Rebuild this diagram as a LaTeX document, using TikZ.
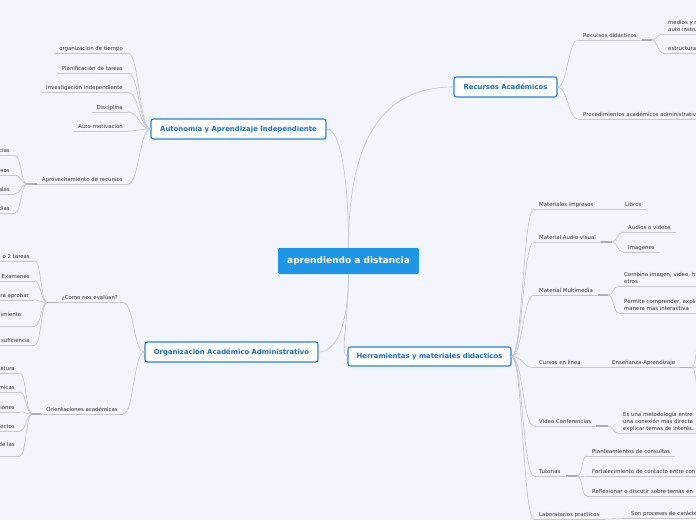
\documentclass[tikz,border=0pt]{standalone}
\usepackage{fontspec}
\setmainfont{DejaVu Sans}
\usepackage{xcolor}
\usepackage{tikz}
\definecolor{canvasbg}{RGB}{242,245,253}
\definecolor{rootblue}{RGB}{29,150,232}
\definecolor{topicblue}{RGB}{36,130,224}
\definecolor{topictext}{RGB}{20,108,206}
\definecolor{linkgrey}{RGB}{198,200,208}
\definecolor{gripgrey}{RGB}{170,172,180}
\definecolor{leafgrey}{RGB}{48,48,54}

\begin{document}
\begin{tikzpicture}[x=1pt, y=-1pt,
    root/.style={rectangle, rounded corners=2pt, fill=rootblue, text=white,
                 font=\bfseries\fontsize{9}{11}\selectfont, minimum width=141pt, minimum height=26pt},
    topic/.style={rectangle, rounded corners=2.5pt, draw=topicblue, line width=1.1pt, fill=white,
                  text=topictext, font=\bfseries\fontsize{6.9}{8}\selectfont, minimum height=20pt, inner xsep=4pt},
    link/.style={draw=linkgrey, line width=0.7pt},
    grip/.style={draw=gripgrey, line width=1.4pt},
    leaf/.style={font=\fontsize{5.4}{7}\selectfont, text=leafgrey, inner xsep=5pt, inner ysep=1.6pt,
                 text depth=1.2pt, align=left,
                 append after command={(\tikzlastnode.south west) edge[link] (\tikzlastnode.south east)}},
    lleaf/.style={leaf, anchor=south east},
    rleaf/.style={leaf, anchor=south west},
    fan/.style={link, to path={.. controls +(-#1,0) and +(#1,0) .. (\tikztotarget)}},
    fan/.default=11,
    rfan/.style={link, to path={.. controls +(#1,0) and +(-#1,0) .. (\tikztotarget)}},
    rfan/.default=11
]
    \fill[canvasbg] (0,0) rectangle (696,520);
    \useasboundingbox (0,0) rectangle (696,520);

    % Centro
    \node[root] (root) at (348.5,261) {aprendiendo a distancia};

    % Temas
    \node[topic, minimum width=175pt] (auto) at (238.5,129) {Autonomía y Aprendizaje Independiente};
    \node[topic, minimum width=173pt] (orga) at (231.5,352) {Organización Académico Administrativo};
    \node[topic, minimum width=103pt] (recu) at (505.5,87) {Recursos Académicos};
    \node[topic, minimum width=163pt, minimum height=19pt] (herr) at (429.5,356.5) {Herramientas y materiales didacticos};

    \draw[link] (auto.east) .. controls +(14,0) and +(0,-70) .. (root.north);
    \draw[link] (root.north) .. controls +(0,-110) and +(-70,0) .. (recu.west);
    \draw[link] (root.south) .. controls +(0,50) and +(18,0) .. (orga.east);
    \draw[link] (root.south) .. controls +(0,45) and +(-8,0) .. (herr.west);

    % Autonomia
    \node[lleaf] (tiempo) at (128,53) {organizacion de tiempo};
    \node[lleaf] (tareas) at (128,73) {Planificación de tareas};
    \node[lleaf] (investig) at (128,92.5) {Investigación independiente};
    \node[lleaf] (discip) at (128,112) {Disciplina};
    \node[lleaf] (motiv) at (128,131) {Auto-motivacion};
    \node[lleaf] (aprov) at (128,184) {Aprovechamiento de recursos};
    \foreach \n in {tiempo,tareas,investig,discip,motiv,aprov}
        \draw[fan] (auto.west) to (\n.south east);

    \coordinate (aprovj) at (27,184);
    \draw[grip] (aprov.south west) -- (aprovj);
    \node[lleaf] (ap1) at (15,155.5) {cias};
    \node[lleaf] (ap2) at (15,175) {esos};
    \node[lleaf] (ap3) at (15,194) {ales};
    \node[lleaf] (ap4) at (15,213) {dias};
    \foreach \n in {ap1,ap2,ap3,ap4}
        \draw[fan=6] (aprovj) to (\n.south east);

    % Organizacion
    \node[lleaf] (evalua) at (123,302.5) {¿Como nos evalúan?};
    \node[lleaf] (orient) at (123,414) {Orientaciones académicas};
    \foreach \n in {evalua,orient}
        \draw[fan] (orga.west) to (\n.south east);

    \coordinate (evaluaj) at (47,302.5);
    \draw[grip] (evalua.south west) -- (evaluaj);
    \node[lleaf] (ev1) at (35,261) {ó 2 tareas};
    \node[lleaf] (ev2) at (35,281) {Examenes};
    \node[lleaf] (ev3) at (34,300) {ara aprobar};
    \node[lleaf, text width=29pt, text depth=7.5pt] (ev4) at (35,326) {imiento};
    \node[lleaf] (ev5) at (35,345) {suficiencia};
    \foreach \n in {ev1,ev2,ev3,ev4,ev5}
        \draw[fan=6] (evaluaj) to (\n.south east);

    \coordinate (orientj) at (32,414);
    \draw[grip] (orient.south west) -- (orientj);
    \node[lleaf] (or1) at (20,373) {atura};
    \node[lleaf] (or2) at (20,392) {micas};
    \node[lleaf] (or3) at (20,412) {ciones};
    \node[lleaf] (or4) at (20,431) {ectos};
    \node[lleaf, text depth=7.5pt] (or5) at (20,456) {de las};
    \foreach \n in {or1,or2,or3,or4,or5}
        \draw[fan=6] (orientj) to (\n.south east);

    % Recursos
    \node[rleaf] (didac) at (578,40) {Recursos didácticos};
    \node[rleaf] (proced) at (578,119) {Procedimientos académicos administrativos};
    \foreach \n in {didac,proced}
        \draw[rfan=10] (recu.east) to (\n.south west);

    \coordinate (didacj) at (652,40);
    \draw[grip] (didac.south east) -- (didacj);
    \node[rleaf] (medios) at (663,34) {medios y r\\auto instru};
    \node[rleaf] (estruc) at (663,53) {estructura};
    \foreach \n in {medios,estruc}
        \draw[rfan=5] (didacj) to (\n.south west);

    % Herramientas
    \node[rleaf] (impres) at (534,209) {Materiales impresos};
    \node[rleaf] (audiov) at (534,242) {Material Audio-visual};
    \node[rleaf] (multim) at (534,295) {Material Multimedia};
    \node[rleaf] (cursos) at (534,367.5) {Cursos en linea};
    \node[rleaf] (videoc) at (534,426) {Video Conferencias};
    \node[rleaf] (tutor) at (534,476) {Tutorias};
    \node[rleaf] (labor) at (534,519) {Laboratorios practicos};
    \foreach \n in {impres,audiov,multim,cursos,videoc,tutor,labor}
        \draw[rfan] (herr.east) to (\n.south west);

    \node[rleaf] (libros) at (620,209) {Libros};
    \draw[link] (impres.south east) -- (libros.south west);

    \coordinate (audiovj) at (612,242);
    \draw[grip] (audiov.south east) -- (audiovj);
    \node[rleaf] (audios) at (623,232) {Audios o videos};
    \node[rleaf] (imagen) at (623,252) {Imagenes};
    \foreach \n in {audios,imagen}
        \draw[rfan=6] (audiovj) to (\n.south west);

    \coordinate (multimj) at (608,295);
    \draw[grip] (multim.south east) -- (multimj);
    \node[rleaf] (combina) at (619,286) {Combina imagen, video, h\\otros};
    \node[rleaf] (permite) at (619,313) {Permite comprender, expli\\manera mas interactiva};
    \foreach \n in {combina,permite}
        \draw[rfan=6] (multimj) to (\n.south west);

    \node[rleaf] (ensena) at (607,367.5) {Enseñanza-Aprendizaje};
    \draw[link] (cursos.south east) -- (ensena.south west);
    \coordinate (ensenaj) at (692,367.5);
    \draw[grip] (ensena.south east) -- (ensenaj);
    \coordinate (ens1) at (698,300);
    \coordinate (ens2) at (712,367.5);
    \coordinate (ens3) at (698,435);
    \draw[link] (ensenaj) .. controls +(5,0) and +(0,25) .. (ens1);
    \draw[link] (ensenaj) -- (ens2);
    \draw[link] (ensenaj) .. controls +(5,0) and +(0,-25) .. (ens3);

    \coordinate (videocj) at (608,426);
    \draw[grip] (videoc.south east) -- (videocj);
    \node[rleaf] (metodo) at (618,433) {Es una metodología entre\\una conexión mas directa\\explicar temas de interés.};
    \draw[rfan=5] (videocj) to (metodo.south west);

    \coordinate (tutorj) at (577,476);
    \draw[grip] (tutor.south east) -- (tutorj);
    \node[rleaf] (plante) at (587,456) {Planteamientos de consultas};
    \node[rleaf] (fortal) at (587,476) {Fortalecimiento de contacto entre con};
    \node[rleaf] (reflex) at (587,496) {Reflexionar o discutir sobre temas en};
    \foreach \n in {plante,fortal,reflex}
        \draw[rfan=6] (tutorj) to (\n.south west);

    \node[rleaf] (procesos) at (626,518.5) {Son procesos de carácte};
    \draw[link] (labor.south east) -- (procesos.south west);
\end{tikzpicture}
\end{document}
